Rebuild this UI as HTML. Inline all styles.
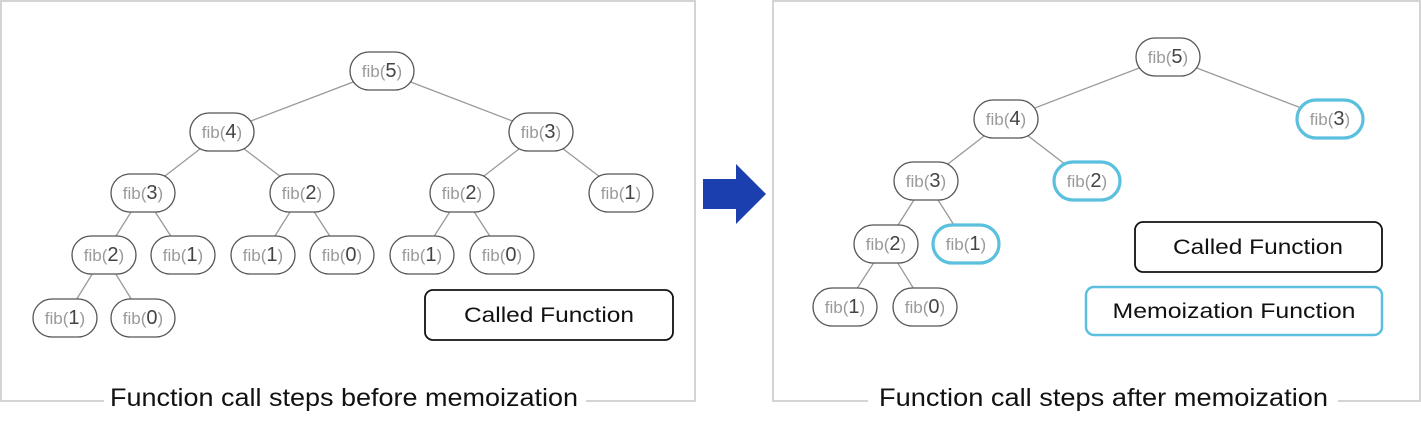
<!DOCTYPE html>
<html><head><meta charset="utf-8"><style>
html,body{margin:0;padding:0;background:#fff;width:1421px;height:430px;overflow:hidden}
svg{display:block}
.e{stroke:#9a9a9a;stroke-width:1.3}
.n rect{fill:#fff;stroke:#555;stroke-width:1.3}
.m rect{fill:#fff;stroke:#5bc0de;stroke-width:3.2}
.n text,.m text{font-family:"Liberation Sans",sans-serif;font-size:17px;fill:#9a9a9a;text-anchor:middle}
.d{fill:#444;font-size:20px}
.cap{font-family:"Liberation Sans",sans-serif;font-size:25px;fill:#111}
.lg{font-family:"Liberation Sans",sans-serif;font-size:21px;fill:#111;text-anchor:middle}
</style></head><body>
<svg width="1421" height="430" viewBox="0 0 1421 430">
<rect x="1" y="1" width="694" height="400" fill="none" stroke="#d4d4d4" stroke-width="2"/>
<rect x="773" y="1" width="647" height="400" fill="none" stroke="#d4d4d4" stroke-width="2"/>
<rect x="104" y="385" width="482" height="30" fill="#fff"/>
<rect x="868" y="385" width="470" height="30" fill="#fff"/>
<text class="cap" x="110" y="406" textLength="468" lengthAdjust="spacingAndGlyphs">Function call steps before memoization</text>
<text class="cap" x="879" y="406" textLength="449" lengthAdjust="spacingAndGlyphs">Function call steps after memoization</text>
<polygon points="703,179 736,179 736,164 766,194 736,224 736,209 703,209" fill="#1c3fb0"/>
<g class="e">
<line x1="382" y1="71" x2="222" y2="132"/><line x1="382" y1="71" x2="541" y2="132"/>
<line x1="222" y1="132" x2="143" y2="193"/><line x1="222" y1="132" x2="302" y2="193"/>
<line x1="541" y1="132" x2="462" y2="193"/><line x1="541" y1="132" x2="621" y2="193"/>
<line x1="143" y1="193" x2="104" y2="255"/><line x1="143" y1="193" x2="183" y2="255"/>
<line x1="302" y1="193" x2="263" y2="255"/><line x1="302" y1="193" x2="342" y2="255"/>
<line x1="462" y1="193" x2="422" y2="255"/><line x1="462" y1="193" x2="502" y2="255"/>
<line x1="104" y1="255" x2="65" y2="318"/><line x1="104" y1="255" x2="143" y2="318"/>
<line x1="1168" y1="57" x2="1006" y2="119"/><line x1="1168" y1="57" x2="1330" y2="119"/>
<line x1="1006" y1="119" x2="926" y2="181"/><line x1="1006" y1="119" x2="1087" y2="181"/>
<line x1="926" y1="181" x2="886" y2="244"/><line x1="926" y1="181" x2="966" y2="244"/>
<line x1="886" y1="244" x2="845" y2="307"/><line x1="886" y1="244" x2="925" y2="307"/>
</g>
<g class="n" transform="translate(382,71)"><rect x="-32" y="-19" width="64" height="38" rx="19"/><text y="6">fib(<tspan class="d">5</tspan>)</text></g>
<g class="n" transform="translate(222,132)"><rect x="-32" y="-19" width="64" height="38" rx="19"/><text y="6">fib(<tspan class="d">4</tspan>)</text></g>
<g class="n" transform="translate(541,132)"><rect x="-32" y="-19" width="64" height="38" rx="19"/><text y="6">fib(<tspan class="d">3</tspan>)</text></g>
<g class="n" transform="translate(143,193)"><rect x="-32" y="-19" width="64" height="38" rx="19"/><text y="6">fib(<tspan class="d">3</tspan>)</text></g>
<g class="n" transform="translate(302,193)"><rect x="-32" y="-19" width="64" height="38" rx="19"/><text y="6">fib(<tspan class="d">2</tspan>)</text></g>
<g class="n" transform="translate(462,193)"><rect x="-32" y="-19" width="64" height="38" rx="19"/><text y="6">fib(<tspan class="d">2</tspan>)</text></g>
<g class="n" transform="translate(621,193)"><rect x="-32" y="-19" width="64" height="38" rx="19"/><text y="6">fib(<tspan class="d">1</tspan>)</text></g>
<g class="n" transform="translate(104,255)"><rect x="-32" y="-19" width="64" height="38" rx="19"/><text y="6">fib(<tspan class="d">2</tspan>)</text></g>
<g class="n" transform="translate(183,255)"><rect x="-32" y="-19" width="64" height="38" rx="19"/><text y="6">fib(<tspan class="d">1</tspan>)</text></g>
<g class="n" transform="translate(263,255)"><rect x="-32" y="-19" width="64" height="38" rx="19"/><text y="6">fib(<tspan class="d">1</tspan>)</text></g>
<g class="n" transform="translate(342,255)"><rect x="-32" y="-19" width="64" height="38" rx="19"/><text y="6">fib(<tspan class="d">0</tspan>)</text></g>
<g class="n" transform="translate(422,255)"><rect x="-32" y="-19" width="64" height="38" rx="19"/><text y="6">fib(<tspan class="d">1</tspan>)</text></g>
<g class="n" transform="translate(502,255)"><rect x="-32" y="-19" width="64" height="38" rx="19"/><text y="6">fib(<tspan class="d">0</tspan>)</text></g>
<g class="n" transform="translate(65,318)"><rect x="-32" y="-19" width="64" height="38" rx="19"/><text y="6">fib(<tspan class="d">1</tspan>)</text></g>
<g class="n" transform="translate(143,318)"><rect x="-32" y="-19" width="64" height="38" rx="19"/><text y="6">fib(<tspan class="d">0</tspan>)</text></g>
<g class="n" transform="translate(1168,57)"><rect x="-32" y="-19" width="64" height="38" rx="19"/><text y="6">fib(<tspan class="d">5</tspan>)</text></g>
<g class="n" transform="translate(1006,119)"><rect x="-32" y="-19" width="64" height="38" rx="19"/><text y="6">fib(<tspan class="d">4</tspan>)</text></g>
<g class="m" transform="translate(1330,119)"><rect x="-33" y="-19" width="66" height="38" rx="19"/><text y="6">fib(<tspan class="d">3</tspan>)</text></g>
<g class="n" transform="translate(926,181)"><rect x="-32" y="-19" width="64" height="38" rx="19"/><text y="6">fib(<tspan class="d">3</tspan>)</text></g>
<g class="m" transform="translate(1087,181)"><rect x="-33" y="-19" width="66" height="38" rx="19"/><text y="6">fib(<tspan class="d">2</tspan>)</text></g>
<g class="n" transform="translate(886,244)"><rect x="-32" y="-19" width="64" height="38" rx="19"/><text y="6">fib(<tspan class="d">2</tspan>)</text></g>
<g class="m" transform="translate(966,244)"><rect x="-33" y="-19" width="66" height="38" rx="19"/><text y="6">fib(<tspan class="d">1</tspan>)</text></g>
<g class="n" transform="translate(845,307)"><rect x="-32" y="-19" width="64" height="38" rx="19"/><text y="6">fib(<tspan class="d">1</tspan>)</text></g>
<g class="n" transform="translate(925,307)"><rect x="-32" y="-19" width="64" height="38" rx="19"/><text y="6">fib(<tspan class="d">0</tspan>)</text></g>
<rect x="425" y="290" width="248" height="50" rx="8" fill="#fff" stroke="#111" stroke-width="1.8"/>
<text class="lg" x="549" y="322" textLength="170" lengthAdjust="spacingAndGlyphs">Called Function</text>
<rect x="1135" y="222" width="247" height="50" rx="8" fill="#fff" stroke="#111" stroke-width="1.8"/>
<text class="lg" x="1258" y="254" textLength="170" lengthAdjust="spacingAndGlyphs">Called Function</text>
<rect x="1086" y="287" width="296" height="48" rx="8" fill="#fff" stroke="#5bc0de" stroke-width="2.5"/>
<text class="lg" x="1234" y="318" textLength="243" lengthAdjust="spacingAndGlyphs">Memoization Function</text>
</svg>
</body></html>
